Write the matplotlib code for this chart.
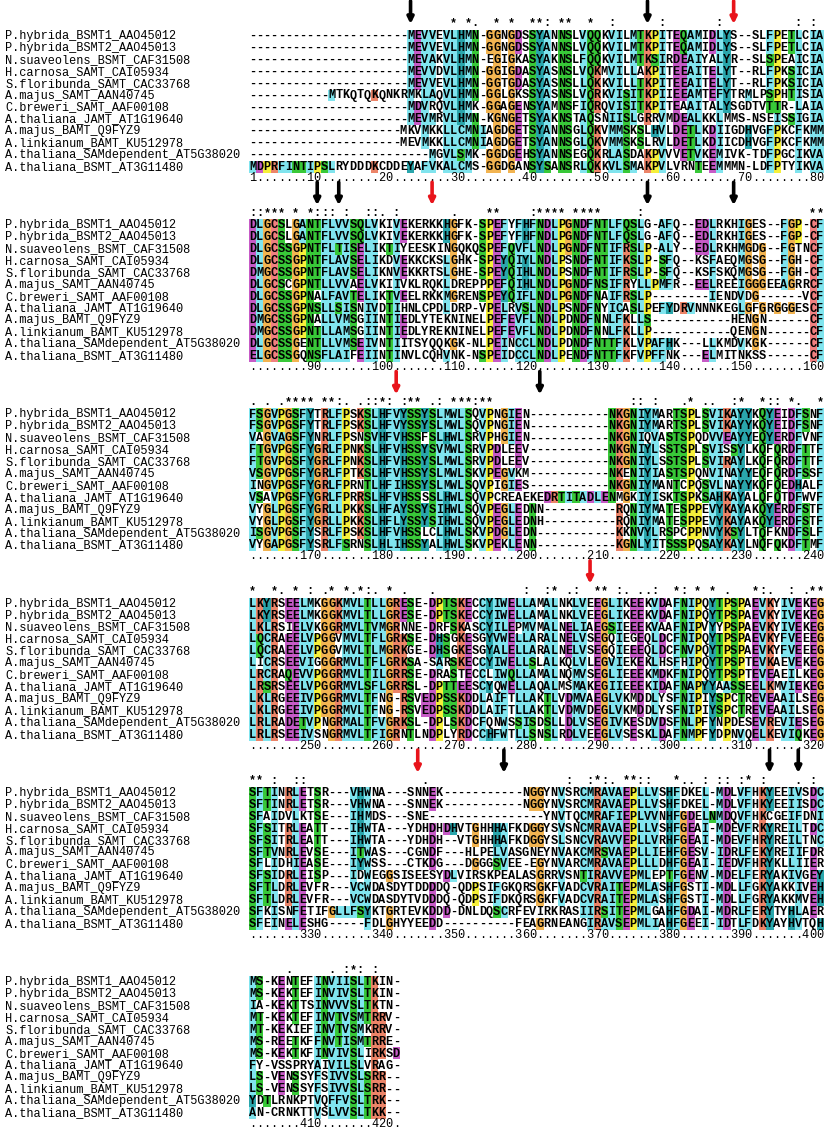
import matplotlib
matplotlib.use("Agg")
import matplotlib.pyplot as plt
import numpy as np
from matplotlib.colors import to_rgba


names = [
    "P.hybrida_BSMT1_AAO45012",
    "P.hybrida_BSMT2_AAO45013",
    "N.suaveolens_BSMT_CAF31508",
    "H.carnosa_SAMT_CAI05934",
    "S.floribunda_SAMT_CAC33768",
    "A.majus_SAMT_AAN40745",
    "C.breweri_SAMT_AAF00108",
    "A.thaliana_JAMT_AT1G19640",
    "A.majus_BAMT_Q9FYZ9",
    "A.linkianum_BAMT_KU512978",
    "A.thaliana_SAMdependent_AT5G38020",
    "A.thaliana_BSMT_AT3G11480",
]

block1 = [
    "----------------------MEVVEVLHMN-GGNGDSSYANNSLVQQKVILMTKPITEQAMIDLYS--SLFPETLCIA",
    "----------------------MEVVEVLHMN-GGNGDSSYANNSLVQQKVILMTKPITEQAMIDLYS--SLFPETLCIA",
    "----------------------MEVAKVLHMN-EGIGKASYAKNSLFQQKVILMTKSIRDEAIYALYR--SLSPEAICIA",
    "----------------------MEVVDVLHMN-GGIGDASYASNSLVQKMVILLAKPITEEAITELYT--RLFPKSICIA",
    "----------------------MEVVEVLHMN-GGTGDASYASNSLLQKKVILLTKPITEEAITELYT--RLFPKSICIA",
    "-----------MTKQTQKQNKRMKLAQVLHMN-GGLGKSSYASNSLVQRKVISITKPIIEEAMTEFYTRMLPSPHTISIA",
    "----------------------MDVRQVLHMK-GGAGENSYAMNSFIQRQVISITKPITEAAITALYSGDTVTTR-LAIA",
    "----------------------MEVMRVLHMN-KGNGETSYAKNSTAQSNIISLGRRVMDEALKKLMMS-NSEISSIGIA",
    "---------------------MKVMKKLLCMNIAGDGETSYANNSGLQKVMMSKSLHVLDETLKDIIGDHVGFPKCFKMM",
    "---------------------MEVMKKLLCMNIAGDGETSYANNSGLQKVMMSKSLRVLDETLKDIICDHVGFPKCFKMM",
    "-------------------------MGVLSMK-GGDGEHSYANNSEGQKRLASDAKPVVVETVKEMIVK-TDFPGCIKVA",
    "MDPRFINTIPSLRYDDDKCDDEYAFVKALCMS-GGDGANSYSANSRLQKKVLSMAKPVLVRNTEEMMMN-LDFPTYIKVA",
]

block2 = [
    "DLGCSLGANTFLVVSQLVKIVEKERKKHGFK-SPEFYFHFNDLPGNDFNTLFQSLG-AFQ--EDLRKHIGES--FGP-CF",
    "DLGCSLGANTFLVVSQLVKIVEKERKKHGFK-SPEFYFHFNDLPGNDFNTLFQSLG-AFQ--EDLRKHIGES--FGP-CF",
    "DLGCSSGPNTFLTISELIKTIYEESKINGQKQSPEFQVFLNDLPGNDFNTIFRSLP-ALY--EDLRKHMGDG--FGTNCF",
    "DLGCSSGPNTFLAVSELIKDVEKKCKSLGHK-SPEYQIYLNDLPSNDFNTIFKSLP-SFQ--KSFAEQMGSG--FGH-CF",
    "DMGCSSGPNTFLAVSELIKNVEKKRTSLGHE-SPEYQIHLNDLPSNDFNTIFRSLP-SFQ--KSFSKQMGSG--FGH-CF",
    "DLGCSCGPNTLLVVAELVKIIVKLRQKLDREPPPEFQIHLNDLPGNDFNSIFRYLLPMFR--EELREEIGGGEEAGRRCF",
    "DLGCSSGPNALFAVTELIKTVEELRKKMGRENSPEYQIFLNDLPGNDFNAIFRSLP--------IENDVDG------VCF",
    "DLGCSSGPNSLLSISNIVDTIHNLCPDLDRP-VPELRVSLNDLPSNDFNYICASLPEFYDRVNNNKEGLGFGRGGGESCF",
    "DMGCSSGPNALLVMSGIINTIEDLYTEKNINELPEFEVFLNDLPDNDFNNLFKLLS-----------HENGN------CF",
    "DMGCSSGPNTLLAMSGIINTIEDLYREKNINELPEFEVFLNDLPDNDFNNLFKLLP-----------QENGN------CF",
    "DLGCSSGENTLLVMSEIVNTIITSYQQKGK-NLPEINCCLNDLPDNDFNTTFKLVPAFHK---LLKMDVKGK------CF",
    "ELGCSSGQNSFLAIFEIINTINVLCQHVNK-NSPEIDCCLNDLPENDFNTTFKFVPFFNK---ELMITNKSS------CF",
]

block3 = [
    "FSGVPGSFYTRLFPSKSLHFVYSSYSLMWLSQVPNGIEN-----------NKGNIYMARTSPLSVIKAYYKQYEIDFSNF",
    "FSGVPGSFYTRLFPSKSLHFVYSSYSLMWLSQVPNGIEN-----------NKGNIYMARTSPLSVIKAYYKQYEIDFSNF",
    "VAGVAGSFYNRLFPSNSVHFVHSSFSLHWLSRVPHGIEN-----------NKGNIQVASTSPQDVVEAYYEQYERDFVNF",
    "FTGVPGSFYGRLFPNKSLHFVHSSYSVMWLSRVPDLEEV-----------NKGNIYLSSTSPLSVISSYLKQFQRDFTTF",
    "FTGVPGSFYGRLFPNKSLHFVHSSYSLMWLSRVPDLEEV-----------NKGNIYLSSTSPLSVIRAYLKQFQRDFTTF",
    "VSGVPGSFYGRLFPTKSLHFVHSSYSLMWLSKVPEGVKM-----------NKENIYIASTSPQNVINAYYEQFQRDFSSF",
    "INGVPGSFYGRLFPRNTLHFIHSSYSLMWLSQVPIGIES-----------NKGNIYMANTCPQSVLNAYYKQFQEDHALF",
    "VSAVPGSFYGRLFPRRSLHFVHSSSSLHWLSQVPCREAEKEDRTITADLENMGKIYISKTSPKSAHKAYALQFQTDFWVF",
    "VYGLPGSFYGRLLPKKSLHFAYSSYSIHWLSQVPEGLEDNN----------RQNIYMATESPPEVYKAYAKQYERDFSTF",
    "VYGLPGSFYGRLLPKKSLHFLYSSYSIHWLSQVPEGLEDNH----------RQNIYMATESPPEVYKAYAKQYERDFSTF",
    "ISGVPGSFYSRLFPSKSLHFVHSSLCLHWLSKVPDGLEDN-----------KKNVYLRSPCPPNVYKSYLTQFKNDFSLF",
    "VYGAPGSFYSRLFSRNSLHLIHSSYALHWLSKVPEKLENN-----------KGNLYITSSSPQSAYKAYLNQFQKDFTMF",
]

block4 = [
    "LKYRSEELMKGGKMVLTLLGRESE-DPTSKECCYIWELLAMALNKLVEEGLIKEEKVDAFNIPQYTPSPAEVKYIVEKEG",
    "LKYRSEELMKGGKMVLTLLGRESE-DPTSKECCYIWELLAMALNKLVEEGLIKEEKVDAFNIPQYTPSPAEVKYIVEKEG",
    "LKLRSIELVKGGRMVLTVMGRNNE-DRFSKASCYILEPMVMALNELIAEGSIEEEKVAAFNIPVYYPSPAEVKYIVEKEG",
    "LQCRAEELVPGGVMVLTFLGRKSE-DHSGKESGYVWELLARALNELVSEGQIEGEQLDCFNIPQYTPSPAEVKYFVEEEG",
    "LQCRAEELVPGGVMVLTLMGRKGE-DHSGKESGYALELLARALNELVSEGQIEEEQLDCFNVPQYTPSPAEVKYFVEEEG",
    "LICRSEEVIGGGRMVLTFLGRKSA-SARSKECCYIWELLSLALKQLVLEGVIEKEKLHSFHIPQYTPSPTEVKAEVEKEG",
    "LRCRAQEVVPGGRMVLTILGRRSE-DRASTECCLIWQLLAMALNQMVSEGLIEEEKMDKFNIPQYTPSPTEVEAEILKEG",
    "LRSRSEELVPGGRMVLSFLGRRSL-DPTTEESCYQWELLAQALMSMAKEGIIEEEKIDAFNAPYYAASSEELKMVIEKEG",
    "LKLRGEEIVPGGRMVLTFNG-RSVEDPSSKDDLAIFTLLAKTLVDMVAEGLVKMDDLYSFNIPIYSPCTREVEAAILSEG",
    "LKLRGEEIVPGGRMVLTFNG-RSVEDPSSKDDLAIFTLLAKTLVDMVDEGLVKMDDLYSFNIPIYSPCTREVEAAILSEG",
    "LRLRADETVPNGRMALTFVGRKSL-DPLSKDCFQNWSSISDSLLDLVSEGIVKESDVDSFNLPFYNPDESEVREVIESEG",
    "LRLRSEEIVSNGRMVLTFIGRNTLNDPLYRDCCHFWTLLSNSLRDLVEEGLVSESKLDAFNMPFYDPNVQELKEVIQKEG",
]

block5 = [
    "SFTINRLETSR---VHWNA---SNNEK-----------NGGYNVSRCMRAVAEPLLVSHFDKEL-MDLVFHKYEEIVSDC",
    "SFTINRLETSR---VHWNA---SNNEK-----------NGGYNVSRCMRAVAEPLLVSHFDKEL-MDLVFHKYEEIISDC",
    "SFAIDVLKTSE---IHMDS---SNE----------------YNVTQCMRAFIEPLVVNHFGDELNMDQVFHKCGEIFDNI",
    "SFSITRLEATT---IHWTA---YDHDHDHVTGHHHAFKDGGYSVSNCMRAVAEPLLVSHFGEAI-MDEVFRKYREILTDC",
    "SFSITRLEATT---IHWTA---YDHDH--VTGHHHAFKDGGYSLSNCVRAVVEPLLVRHFGEAI-MDEVFHRYREILTNC",
    "SFTVNRLEVSE---ITWAS---CGNDF---HLPELVASGNEYNVAKCMRSVAEPLLIEHFGESV-IDRLFEKYREIIFDR",
    "SFLIDHIEASE---IYWSS---CTKDG---DGGGSVEE-EGYNVARCMRAVAEPLLLDHFGEAI-IEDVFHRYKLLIIER",
    "SFSIDRLEISP---IDWEGGSISEESYDLVIRSKPEALASGRRVSNTIRAVVEPMLEPTFGENV-MDELFERYAKIVGEY",
    "SFTLDRLEVFR---VCWDASDYTDDDDQ-QDPSIFGKQRSGKFVADCVRAITEPMLASHFGSTI-MDLLFGKYAKKIVEH",
    "SFTLDRLEVFR---VCWDASDYTVDDDQ-QDPSIFDKQRSGKFVADCVRAITEPMLASHFGSTI-MDLLFGRYAKKMVEH",
    "SFKISNFETIFGLLFSYKTGRTEVKDDD-DNLDQSCRFEVIRKRASIIRSITEPMLGAHFGDAI-MDRLFERYTYHLAER",
    "SFEINELESHG-----FDLGHYYEEDD----------FEAGRNEANGIRAVSEPMLIAHFGEEI-IDTLFDKYAYHVTQH",
]

block6 = [
    "MS-KENTEFINVIISLTKIN-",
    "MS-KEKTEFINVIVSLTKIN-",
    "IA-KEKTTSINVVVSLTKTN-",
    "MT-KEKTEFINVTVSMTRRV-",
    "MT-KEKIEFINVTVSMKRRV-",
    "MS-REETKFFNVTISMTRRE-",
    "MS-KEKTKFINVIVSLIRKSD",
    "FY-VSSPRYAIVILSLVRAG-",
    "LS-VENSSYFSIVVSLSRR--",
    "LS-VENSSYFSIVVSLSRR--",
    "YDTLRNKPTVQFFVSLTRK--",
    "AN-CRNKTTVSLVVSLTKK--",
]

# alignment columns marked with arrows
black_arrows = [23, 56, 90, 93, 136, 148, 201, 356, 393, 397]
red_arrows = [68, 106, 181, 288, 344]

blocks = [block1, block2, block3, block4, block5, block6]
seqs = ["".join(b[i] for b in blocks) for i in range(len(names))]
ncol = max(len(s) for s in seqs)
seqs = [s.ljust(ncol, "-") for s in seqs]
columns = ["".join(s[j] for s in seqs) for j in range(ncol)]

COLORS = {
    "cyan": "#80e4ee", "green": "#38c838", "magenta": "#c65ac6",
    "red": "#ec8468", "orange": "#f2b451", "yellow": "#f6f03a",
    "teal": "#2aa6ac", "pink": "#f08080",
}
HYD = "WLVIMAFCHP"


def pct(col, letters):
    res = [c for c in col if c != "-"]
    if not res:
        return 0.0
    return 100.0 * sum(c in letters for c in res) / len(res)


# clustalx-like colouring by column composition (gaps left out)
def residue_colour(res, col):
    hyd = pct(col, HYD)
    if res in "AILMFWV":
        return "cyan" if hyd > 60 else None
    if res == "C":
        if pct(col, "C") > 85:
            return "pink"
        return "cyan" if hyd > 60 else None
    if res in "KR":
        if pct(col, "KR") > 60 or pct(col, "K") > 80 or pct(col, "R") > 80:
            return "red"
        return None
    if res == "E":
        if pct(col, "ED") > 50 or pct(col, "QE") > 50 or pct(col, "KR") > 60:
            return "magenta"
        return None
    if res == "D":
        if pct(col, "ED") > 50 or pct(col, "KR") > 60:
            return "magenta"
        return None
    if res == "N":
        return "green" if pct(col, "N") > 50 else None
    if res == "Q":
        if pct(col, "QE") > 50 or pct(col, "KR") > 60:
            return "green"
        return None
    if res in "ST":
        if hyd > 60 or pct(col, "TS") > 50:
            return "green"
        return None
    if res == "G":
        return "orange" if pct(col, "G") > 20 else None
    if res == "P":
        return "yellow" if pct(col, "P") > 20 else None
    if res in "HY":
        if hyd > 60 or pct(col, "WYACPQFHILMV") > 85:
            return "teal"
        return None
    return None


STRONG = ["STA", "NEQK", "NHQK", "NDEQ", "QHRK", "MILV", "MILF", "HY", "FYW"]
WEAK = ["CSA", "ATV", "SAG", "STNK", "STPA", "SGND", "SNDEQK", "NDEQHK",
        "NEQHRK", "FVLIM", "HFY"]


def consensus(col):
    if "-" in col:
        return " "
    s = set(col)
    if len(s) == 1:
        return "*"
    if any(s <= set(g) for g in STRONG):
        return ":"
    if any(s <= set(g) for g in WEAK):
        return "."
    return " "


X0 = 249.0
CW = 7.18
RH = 11.9
ROW0 = 36.0
BLOCK_H = 189.25
FS = 8.6
MONO = "Liberation Mono"

fig = plt.figure(figsize=(8.25, 11.34), dpi=100)
ax = fig.add_axes([0, 0, 1, 1])
ax.set_xlim(0, 825)
ax.set_ylim(1134, 0)
ax.axis("off")

start = 0
for k, blk in enumerate(blocks):
    L = len(blk[0])
    y0 = ROW0 + k * BLOCK_H
    nrow = len(names)

    # coloured cells
    img = np.ones((nrow, L, 4))
    for r in range(nrow):
        for j in range(L):
            cname = residue_colour(seqs[r][start + j], columns[start + j])
            if cname:
                img[r, j] = to_rgba(COLORS[cname])
    ax.imshow(img, extent=(X0, X0 + L * CW, y0 - RH / 2 + nrow * RH, y0 - RH / 2),
              interpolation="nearest", aspect="auto", zorder=1)

    for r in range(nrow):
        y = y0 + r * RH
        ax.text(5, y, names[r], fontsize=FS, family=MONO, va="center", ha="left")
        for j in range(L):
            ax.text(X0 + (j + 0.5) * CW, y, seqs[r][start + j], fontsize=FS,
                    family=MONO, weight="bold", va="center", ha="center", zorder=3)

    # consensus line
    for j in range(L):
        sym = consensus(columns[start + j])
        if sym != " ":
            ax.text(X0 + (j + 0.5) * CW, y0 - 12.5, sym, fontsize=FS, family=MONO,
                    weight="bold", va="center", ha="center")

    # ruler
    ruler = ["."] * L
    for j in range(L):
        c = start + j + 1
        if c % 10 == 0:
            lab = str(c)
            for i, ch in enumerate(lab):
                p = j - len(lab) + 1 + i
                if 0 <= p < L:
                    ruler[p] = ch
    if start == 0:
        ruler[0] = "1"
    ry = y0 + (nrow - 1) * RH + 11
    for j, ch in enumerate(ruler):
        ax.text(X0 + (j + 0.5) * CW, ry, ch, fontsize=FS, family=MONO,
                va="center", ha="center")

    # arrows
    top = max(1.0, y0 - 43)
    tip = top + 23
    for cols, colr in [(black_arrows, "black"), (red_arrows, "#e8141b")]:
        for c in cols:
            if start < c <= start + L:
                x = X0 + (c - start - 0.5) * CW
                ax.annotate("", xy=(x, tip), xytext=(x, top),
                            arrowprops=dict(arrowstyle="-|>", lw=2.6, color=colr,
                                            mutation_scale=9, shrinkA=0, shrinkB=0))
    start += L

fig.savefig("out.png", dpi=100)
